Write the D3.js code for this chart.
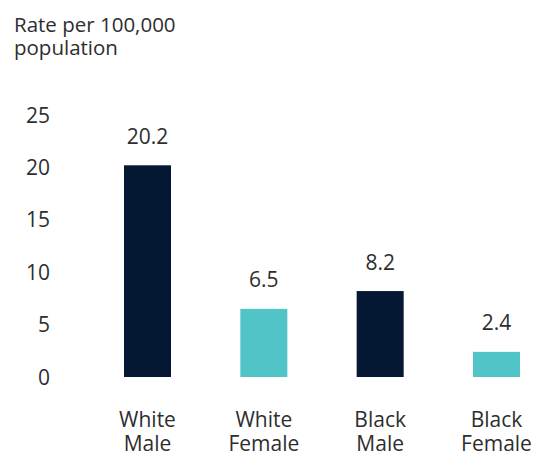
<!DOCTYPE html>
<html>
<head>
<meta charset="utf-8">
<script src="https://cdn.jsdelivr.net/npm/d3@7"></script>
<style>
  body { margin: 0; background: #fff; }
  svg text { font-family: "Open Sans", sans-serif; fill: #2e2e2e; }
</style>
</head>
<body>
<div id="chart"></div>
<script>
const categories = [["White", "Male"], ["White", "Female"], ["Black", "Male"], ["Black", "Female"]];
const rates = [20.2, 6.5, 8.2, 2.4];
const barColors = ["#041733", "#50c4c6", "#041733", "#50c4c6"];
const yTicks = [0, 5, 10, 15, 20, 25];

const width = 536, height = 453;
const svg = d3.select("#chart").append("svg")
  .attr("width", width).attr("height", height);

const keys = categories.map(c => c.join(" "));
const x = d3.scalePoint().domain(keys).range([147.5, 496.5]);
const y = d3.scaleLinear().domain([0, 25]).range([377, 115]);
const barW = 47;

// axis title
svg.append("text").attr("x", 14).attr("y", 32).attr("font-size", 20.5).text("Rate per 100,000");
svg.append("text").attr("x", 14).attr("y", 55).attr("font-size", 20.5).text("population");

// y tick labels
svg.append("g").selectAll("text")
  .data(yTicks).enter().append("text")
  .attr("x", 50).attr("y", d => y(d))
  .attr("dy", "0.36em")
  .attr("text-anchor", "end")
  .attr("font-size", 21)
  .text(d => d);

// bars
svg.append("g").selectAll("rect")
  .data(rates).enter().append("rect")
  .attr("x", (d, i) => x(keys[i]) - barW / 2)
  .attr("y", d => y(d))
  .attr("width", barW)
  .attr("height", d => y(0) - y(d))
  .attr("fill", (d, i) => barColors[i]);

// value labels
svg.append("g").selectAll("text")
  .data(rates).enter().append("text")
  .attr("x", (d, i) => x(keys[i]))
  .attr("y", d => y(d) - 29)
  .attr("dy", "0.36em")
  .attr("text-anchor", "middle")
  .attr("font-size", 21)
  .text(d => d.toFixed(1));

// category labels
const cat = svg.append("g").selectAll("text")
  .data(categories).enter().append("text")
  .attr("x", (d, i) => x(keys[i]))
  .attr("y", 427)
  .attr("text-anchor", "middle")
  .attr("font-size", 21);
cat.append("tspan").attr("x", (d, i) => x(keys[i])).text(d => d[0]);
cat.append("tspan").attr("x", (d, i) => x(keys[i])).attr("dy", 24).text(d => d[1]);
</script>
</body>
</html>
